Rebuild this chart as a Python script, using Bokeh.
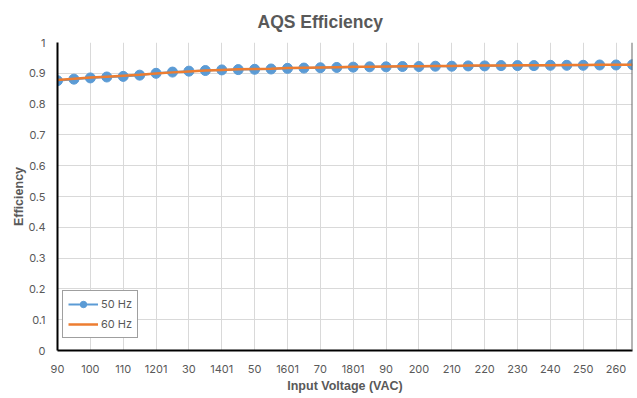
from bokeh.plotting import figure
from bokeh.models import Range1d, FixedTicker, Legend, LegendItem, Span, Title
from bokeh.embed import file_html
from bokeh.resources import INLINE

# ---- data ----
voltage = [90, 95, 100, 105, 110, 115, 120, 125, 130, 135, 140, 145, 150, 155,
           160, 165, 170, 175, 180, 185, 190, 195, 200, 205, 210, 215, 220, 225,
           230, 235, 240, 245, 250, 255, 260, 265]
eff_50hz = [0.876, 0.881, 0.885, 0.888, 0.890, 0.894, 0.900, 0.904, 0.907, 0.909,
            0.911, 0.912, 0.913, 0.914, 0.916, 0.917, 0.918, 0.919, 0.920, 0.921,
            0.921, 0.922, 0.922, 0.923, 0.923, 0.924, 0.924, 0.925, 0.925, 0.925,
            0.926, 0.926, 0.926, 0.927, 0.927, 0.928]
eff_60hz = [0.878, 0.882, 0.886, 0.889, 0.892, 0.895, 0.899, 0.903, 0.906, 0.909,
            0.911, 0.913, 0.914, 0.915, 0.917, 0.918, 0.919, 0.920, 0.921, 0.921,
            0.922, 0.923, 0.923, 0.924, 0.924, 0.925, 0.925, 0.925, 0.926, 0.926,
            0.926, 0.927, 0.927, 0.928, 0.928, 0.928]
x_ticks = [90, 100, 110, 120, 130, 140, 150, 160, 170, 180, 190, 200, 210, 220,
           230, 240, 250, 260]
x_tick_labels = ["90", "100", "110", "1201", "30", "1401", "50", "1601", "70",
                 "1801", "90", "200", "210", "220", "230", "240", "250", "260"]
y_ticks = [0, 0.1, 0.2, 0.3, 0.4, 0.5, 0.6, 0.7, 0.8, 0.9, 1.0]
y_tick_labels = ["0", "0.1", "0.2", "0.3", "0.4", "0.5", "0.6", "0.7", "0.8", "0.9", "1"]
chart_title = "AQS Efficiency"

TXT = "#595959"
TICK_FONT = "Inter"
LBL_FONT = "Liberation Sans"

p = figure(width=637, height=398, output_backend="svg", toolbar_location=None,
           x_range=Range1d(90, 265), y_range=Range1d(0, 1),
           min_border_left=57, min_border_right=5, min_border_top=42,
           min_border_bottom=48)

p.title = Title(text=chart_title, align="left", vertical_align="top",
                text_font=LBL_FONT, text_font_size="17.5px", text_font_style="bold",
                text_color=TXT, standoff=17, offset=200)

p.outline_line_color = None
p.background_fill_color = "white"
p.border_fill_color = "white"

p.xgrid.ticker = FixedTicker(ticks=x_ticks)
p.ygrid.ticker = FixedTicker(ticks=y_ticks)
p.xgrid.grid_line_color = "#d9d9d9"
p.ygrid.grid_line_color = "#d9d9d9"

for ax, ticks, labels in ((p.xaxis[0], x_ticks, x_tick_labels), (p.yaxis[0], y_ticks, y_tick_labels)):
    ax.ticker = FixedTicker(ticks=ticks)
    ax.major_label_overrides = {t: l for t, l in zip(ticks, labels)}
    ax.major_tick_line_color = None
    ax.minor_tick_line_color = None
    ax.major_label_text_font = TICK_FONT
    ax.major_label_text_font_size = "11px"
    ax.major_label_text_color = TXT
    ax.axis_line_color = "black"
    ax.axis_line_width = 2
    ax.axis_label_text_font = LBL_FONT
    ax.axis_label_text_font_size = "12.5px"
    ax.axis_label_text_font_style = "bold"
    ax.axis_label_text_color = TXT

p.xaxis.major_label_standoff = 8
p.xaxis.axis_label_standoff = 3
p.yaxis.major_label_standoff = 6
p.yaxis.axis_label_standoff = 0

p.xaxis.axis_label = "Input Voltage (VAC)"
p.yaxis.axis_label = "Efficiency"

p.add_layout(Span(location=265, dimension="height", line_color="#6b6b6b", line_width=2))

blue = "#5b9bd5"
orange = "#ed7d31"
l50 = p.line(voltage, eff_50hz, line_color=blue, line_width=2)
s50 = p.scatter(voltage, eff_50hz, size=10, fill_color=blue, line_color=blue)
l60 = p.line(voltage, eff_60hz, line_color=orange, line_width=2.5)

legend = Legend(items=[LegendItem(label="50 Hz", renderers=[l50, s50]),
                       LegendItem(label="60 Hz", renderers=[l60])],
                location=(5, 12), padding=5, spacing=4, margin=0,
                label_height=16, glyph_height=16, glyph_width=30, label_standoff=3,
                label_text_font=TICK_FONT, label_text_font_size="11px",
                label_text_color=TXT, border_line_color="#404040", border_line_width=1,
                background_fill_alpha=1)
p.add_layout(legend, "center")

open("out.html", "w").write(file_html(p, INLINE))
